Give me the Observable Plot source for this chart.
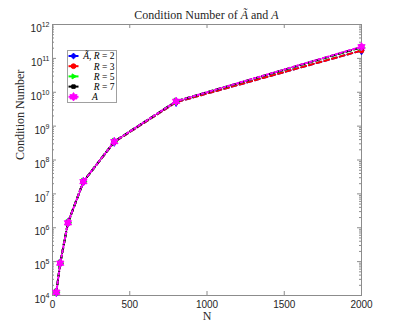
<!DOCTYPE html>
<html><head><meta charset="utf-8">
<script src="https://cdn.jsdelivr.net/npm/d3@7"></script>
<script src="https://cdn.jsdelivr.net/npm/@observablehq/plot@0.6"></script>
<style>
body{margin:0;background:#fff;}
#chart svg{display:block;background:#fff;}
</style></head><body><div id="chart"></div>
<script>
// ---- data ----
const N = [25, 50, 100, 200, 400, 800, 2000];
const condR2 = [1.25e4, 9.0e4, 1.4e6, 2.3e7, 3.4e8, 5.1e9, 1.7e11];
const condR3 = [1.25e4, 9.0e4, 1.4e6, 2.3e7, 3.4e8, 5.1e9, 1.7e11];
const condR5 = [1.25e4, 9.0e4, 1.4e6, 2.3e7, 3.5e8, 5.4e9, 2.1e11];
const condR7 = [1.25e4, 9.0e4, 1.4e6, 2.3e7, 3.5e8, 5.4e9, 2.15e11];
const condA  = [1.25e4, 9.0e4, 1.4e6, 2.3e7, 3.5e8, 5.4e9, 2.2e11];

const seriesKeys   = ["R2", "R3", "R5", "R7", "A"];
const seriesValues = [condR2, condR3, condR5, condR7, condA];
const legendLabels = ["Ã, R = 2", "R = 3", "R = 5", "R = 7", "A"];
const seriesColors = ["#0000ff", "#ff0000", "#00ff00", "#000000", "#ff00ff"];
const seriesDashes = ["5,3", "5,3", "5,3", "5,3", "2,2.5"];

const xTicks = [0, 500, 1000, 1500, 2000];
const yTicks = [1e4, 1e5, 1e6, 1e7, 1e8, 1e9, 1e10, 1e11, 1e12];
const yMinor = [];
for (let e = 4; e < 12; e++) for (let k = 2; k <= 9; k++) yMinor.push(k * 10 ** e);

const titleText = "Condition Number of Ã and A";
const xLabel = "N";
const yLabel = "Condition Number";

// ---- layout ----
const W = 399, H = 332;
const mL = 52, mR = 38, mT = 24, mB = 37;
const pw = W - mL - mR, ph = H - mT - mB;
const serif = "'Liberation Serif', 'DejaVu Serif', serif";
const sans = "'Liberation Sans', Arial, sans-serif";
const axisColor = "#8c8c8c";
const textColor = "#262626";

// hexagram symbol (MATLAB 'h')
const hexagram = {
  draw(ctx, size) {
    const R = Math.sqrt(size / Math.PI) * 1.35, r = R / Math.sqrt(3);
    for (let i = 0; i < 12; i++) {
      const rad = i % 2 === 0 ? R : r;
      const a = -Math.PI / 2 + i * Math.PI / 6;
      const x = rad * Math.cos(a), y = rad * Math.sin(a);
      i === 0 ? ctx.moveTo(x, y) : ctx.lineTo(x, y);
    }
    ctx.closePath();
  }
};
const seriesSymbols = ["diamond", "circle", "triangle", "square", hexagram];
const seriesR = [2.6, 2.4, 2.4, 2.2, 3.1];
const seriesRotate = [0, 0, 90, 0, 0];

const rows = [];
seriesKeys.forEach((k, s) => N.forEach((n, i) => rows.push({series: k, s, N: n, v: seriesValues[s][i]})));

const marks = [
  Plot.frame({stroke: axisColor, strokeWidth: 1}),
  // inward ticks
  Plot.ruleY(yTicks, {stroke: axisColor, insetRight: pw - 4}),
  Plot.ruleY(yTicks, {stroke: axisColor, insetLeft: pw - 4}),
  Plot.ruleY(yMinor, {stroke: axisColor, insetRight: pw - 2}),
  Plot.ruleY(yMinor, {stroke: axisColor, insetLeft: pw - 2}),
  Plot.ruleX(xTicks, {stroke: axisColor, insetTop: ph - 4}),
  Plot.ruleX(xTicks, {stroke: axisColor, insetBottom: ph - 4}),
];
seriesKeys.forEach((k, s) => {
  const d = rows.filter(r => r.series === k);
  marks.push(Plot.line(d, {x: "N", y: "v", stroke: seriesColors[s], strokeWidth: 2,
    strokeDasharray: seriesDashes[s] || undefined}));
  marks.push(Plot.dot(d, {x: "N", y: "v", symbol: seriesSymbols[s], r: seriesR[s],
    fill: seriesColors[s], stroke: seriesColors[s], strokeWidth: 1, rotate: seriesRotate[s]}));
});
marks.push(
  Plot.axisX({ticks: xTicks, tickSize: 0, tickPadding: 5, label: null, fontSize: 10,
    fontFamily: sans, fill: textColor, tickFormat: d => String(d)}),
  Plot.axisY({ticks: yTicks, tickSize: 0, tickPadding: 3, label: null, fontSize: 10,
    fontFamily: sans, fill: textColor, tickFormat: d => String(Math.round(Math.log10(d)))}),
  Plot.text([xLabel], {text: d => d, frameAnchor: "bottom", dy: 24, fontFamily: serif,
    fontSize: 12, fill: textColor}),
  Plot.text([yLabel], {text: d => d, frameAnchor: "left", dx: -32, rotate: -90,
    fontFamily: serif, fontSize: 12, fill: textColor})
);

const svg = Plot.plot({
  width: W, height: H,
  marginLeft: mL, marginRight: mR, marginTop: mT, marginBottom: mB,
  style: {background: "#fff", overflow: "visible"},
  x: {domain: [0, 2000]},
  y: {type: "log", domain: [1e4, 1e12]},
  marks
});
document.getElementById("chart").append(svg);

const S = d3.select(svg);
// superscript exponent for y tick labels
S.selectAll('g[aria-label="y-axis tick label"] text').each(function () {
  const t = d3.select(this);
  const e = t.text();
  t.text("10").attr("dy", "0.45em");
  t.append("tspan").attr("font-size", 7).attr("dy", "-0.75em").text(e);
});

// italic helper for math letters
function richText(sel, str) {
  str.split(/([ÃAR])/).filter(p => p.length).forEach(p => {
    const ts = sel.append("tspan").text(p);
    if (/^[ÃAR]$/.test(p)) ts.attr("font-style", "italic");
  });
}

// title
const title = S.append("text").attr("x", mL + pw / 2).attr("y", 19)
  .attr("text-anchor", "middle").attr("font-family", serif).attr("font-size", 12)
  .attr("fill", textColor);
richText(title, titleText);

// legend
const lg = S.append("g").attr("aria-label", "legend");
lg.append("rect").attr("x", 67.5).attr("y", 50.5).attr("width", 49).attr("height", 52)
  .attr("fill", "#fff").attr("stroke", "#a0a0a0").attr("stroke-width", 1);
legendLabels.forEach((lab, s) => {
  const y = 56 + s * 10.2;
  lg.append("line").attr("x1", 68.5).attr("x2", 78.5).attr("y1", y).attr("y2", y)
    .attr("stroke", seriesColors[s]).attr("stroke-width", 2);
  const sym = seriesSymbols[s];
  const symType = typeof sym === "string"
    ? {diamond: d3.symbolDiamond2, circle: d3.symbolCircle, triangle: d3.symbolTriangle2, square: d3.symbolSquare2}[sym]
    : sym;
  const rr = seriesR[s];
  lg.append("path").attr("d", d3.symbol(symType, rr * rr * Math.PI)())
    .attr("transform", `translate(73.5,${y}) rotate(${seriesRotate[s]})`)
    .attr("fill", seriesColors[s]).attr("stroke", seriesColors[s]);
  const t = lg.append("text").attr("y", y).attr("dy", "0.35em")
    .attr("font-family", serif).attr("font-size", 9.5).attr("fill", "#000");
  if (s === legendLabels.length - 1) t.attr("x", 92).attr("text-anchor", "start");
  else t.attr("x", 114.5).attr("text-anchor", "end");
  richText(t, lab);
});
</script>
</body></html>
